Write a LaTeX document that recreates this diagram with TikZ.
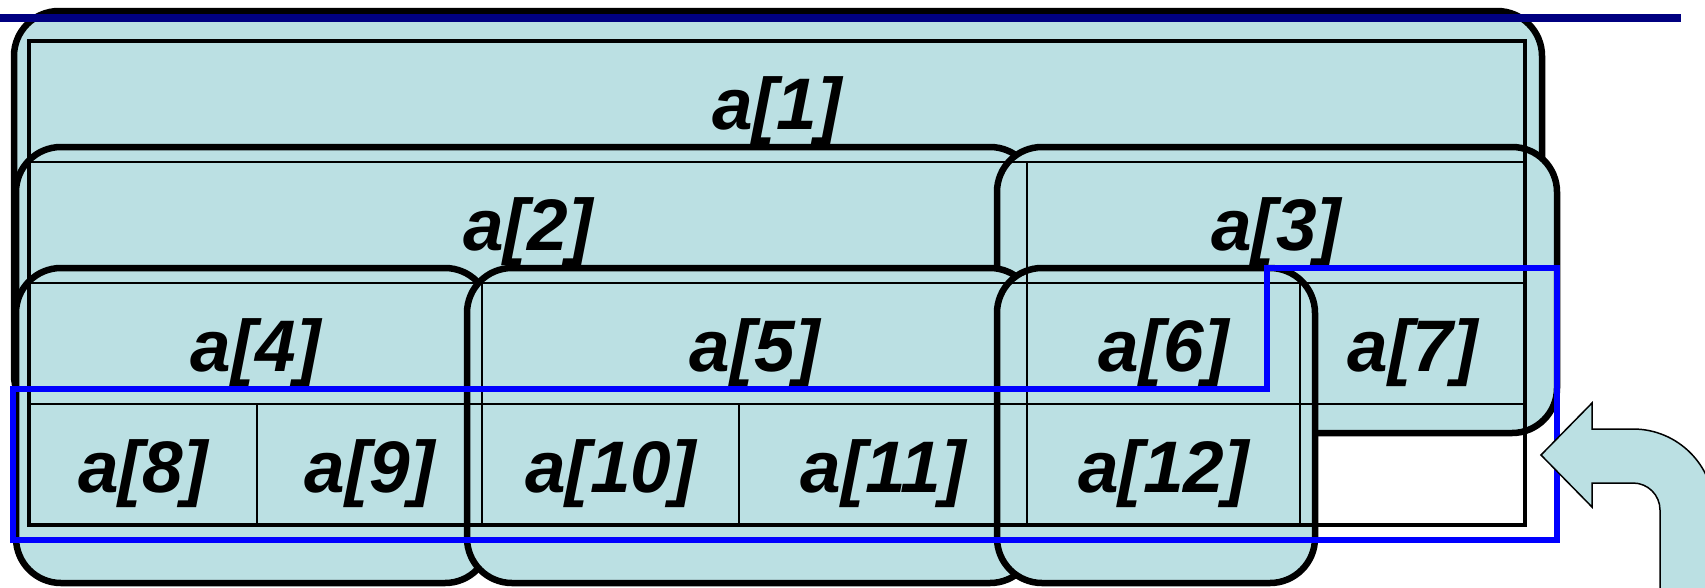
\documentclass[tikz,border=0pt]{standalone}
\usepackage{fontspec}
\setmainfont{Liberation Sans}
\definecolor{boxfill}{RGB}{187,224,227}
\definecolor{navyline}{RGB}{0,0,128}
\begin{document}
\begin{tikzpicture}[x=1pt,y=-1pt,
  subtree/.style={draw=black, fill=boxfill, line width=6.5pt, rounded corners=45pt},
  gridthin/.style={draw=black, line width=2pt},
  gridouter/.style={draw=black, line width=4.5pt},
  lbl/.style={anchor=base, inner sep=0pt, font=\fontsize{73}{80}\selectfont\bfseries\itshape},
  blueline/.style={draw=blue, line width=6pt, line join=miter},
  topline/.style={draw=navyline, line width=8pt},
  bigarrow/.style={draw=black, fill=boxfill, line width=1.5pt, line join=miter}]
\useasboundingbox (0,0) rectangle (1705,587);

% subtree boxes
\draw[subtree] (14,11) rectangle (1542,420);
\draw[subtree] (16,147) rectangle (1035,450);
\draw[subtree] (997,147) rectangle (1557,433);
\draw[subtree] (16,268) rectangle (490,583);
\draw[subtree] (467,268) rectangle (1035,583);
\draw[subtree] (997,268) rectangle (1315,583);

% table grid
\draw[gridthin] (29,162) -- (1525,162);
\draw[gridthin] (29,283) -- (1525,283);
\draw[gridthin] (29,404) -- (1525,404);
\draw[gridthin] (1027,162) -- (1027,525);
\draw[gridthin] (482,283) -- (482,525);
\draw[gridthin] (1300,283) -- (1300,525);
\draw[gridthin] (257,404) -- (257,525);
\draw[gridthin] (739,404) -- (739,525);
\draw[gridouter] (29,41) rectangle (1525,525);

% labels
\node[lbl] (l1) at (777,129) {a[1]};
\node[lbl] (l2) at (528,250) {a[2]};
\node[lbl] (l3) at (1276,250) {a[3]};
\node[lbl] (l4) at (255.5,371) {a[4]};
\node[lbl] (l5) at (754.5,371) {a[5]};
\node[lbl] (l6) at (1163.5,371) {a[6]};
\node[lbl] (l7) at (1412.5,371) {a[7]};
\node[lbl] (l8) at (143,492) {a[8]};
\node[lbl] (l9) at (369.5,492) {a[9]};
\node[lbl] (l10) at (610.5,492) {a[10]};
\node[lbl] (l11) at (883,492) {a[11]};
\node[lbl] (l12) at (1163.5,492) {a[12]};

% blue outline
\draw[blueline] (13,389) -- (1267,389) -- (1267,268) -- (1557,268) -- (1557,540) -- (13,540) -- cycle;

% navy line
\draw[topline] (0,18) -- (1681,18);

% curved block arrow
\draw[bigarrow] (1541,455) -- (1592,403) -- (1592,429) -- (1633,429)
  .. controls (1677.7,429) and (1714,465.3) .. (1714,510)
  -- (1714,600) -- (1660,600) -- (1660,510)
  .. controls (1660,495.1) and (1647.9,483) .. (1633,483)
  -- (1592,483) -- (1592,507) -- cycle;
\end{tikzpicture}
\end{document}
